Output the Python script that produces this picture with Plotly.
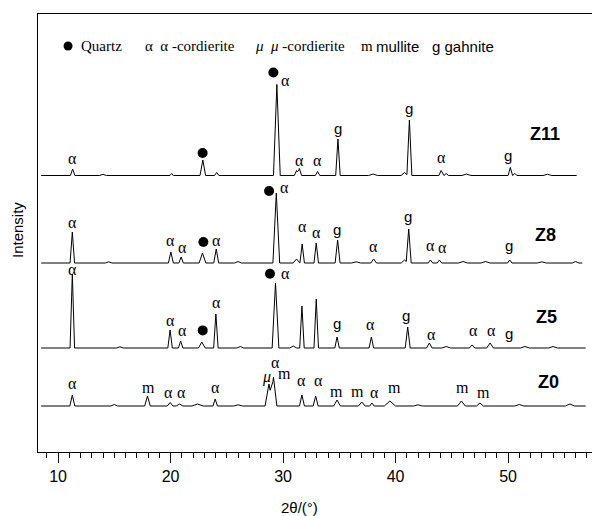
import plotly.graph_objects as go

# ---------------- data (2θ on displayed axis, intensity in arbitrary units) ----------------
samples = ["Z0", "Z5", "Z8", "Z11"]
offsets = [46, 104, 189, 276.5]          # stacking offsets of each pattern
x_start = [8.5, 8.5, 8.5, 8.5]
x_end = [56.9, 56.9, 56.6, 56.1]

z0_pos = [11.27, 15.0, 17.95, 19.96, 20.8, 22.4, 23.97, 26.0, 28.75, 29.15, 31.68, 32.9, 34.8, 37.0, 37.9, 39.5, 42.0, 45.85, 47.5, 51.0, 55.5]
z0_hgt = [11, 1.5, 10, 3.5, 2, 2, 7, 1.2, 22, 29, 11, 10, 6, 4, 3, 5, 1.2, 5, 3, 1.5, 2]
z0_wid = [0.22, 0.3, 0.25, 0.25, 0.3, 0.5, 0.2, 0.4, 0.35, 0.3, 0.22, 0.22, 0.3, 0.3, 0.2, 0.5, 0.4, 0.35, 0.3, 0.4, 0.4]

z5_pos = [11.27, 15.5, 19.96, 20.9, 22.78, 24.03, 26.2, 29.33, 30.9, 31.68, 32.95, 34.8, 37.85, 41.08, 43.0, 44.5, 46.8, 48.4, 51.5, 54.0]
z5_hgt = [74, 1.2, 18, 7, 6, 34, 1.5, 65, 2, 42, 49, 11, 11, 21, 5, 1.5, 3, 5, 1.5, 1.5]
z5_wid = [0.2, 0.3, 0.2, 0.2, 0.3, 0.2, 0.3, 0.3, 0.3, 0.2, 0.2, 0.2, 0.2, 0.22, 0.25, 0.4, 0.25, 0.3, 0.4, 0.4]

z8_pos = [11.27, 14.5, 20.03, 20.94, 22.84, 24.06, 26.0, 29.4, 31.2, 31.7, 32.95, 34.85, 36.5, 38.05, 40.8, 41.17, 43.1, 43.9, 46.0, 48.0, 50.15, 53.0, 56.0]
z8_hgt = [31, 1.2, 11, 6, 10, 14, 1.5, 70, 4, 19, 20, 23, 1.2, 4, 3, 34, 3, 3, 1.5, 1.5, 3, 1.2, 1.5]
z8_wid = [0.2, 0.3, 0.22, 0.2, 0.3, 0.22, 0.3, 0.3, 0.3, 0.2, 0.2, 0.22, 0.4, 0.25, 0.3, 0.22, 0.2, 0.2, 0.4, 0.4, 0.2, 0.4, 0.3]

z11_pos = [11.3, 14.0, 20.1, 22.87, 24.1, 29.45, 31.2, 31.45, 33.07, 34.88, 38.0, 40.8, 41.23, 44.05, 44.5, 46.3, 50.2, 50.6, 53.5]
z11_hgt = [6.5, 1.2, 2, 15.5, 3, 91, 5, 7, 4, 36.5, 1.5, 3, 55.5, 5, 2, 1.5, 8, 2, 1.2]
z11_wid = [0.2, 0.3, 0.15, 0.25, 0.2, 0.3, 0.2, 0.2, 0.2, 0.2, 0.4, 0.3, 0.22, 0.2, 0.2, 0.4, 0.2, 0.2, 0.4]

# quartz markers (x, height above baseline)
z0_q_x, z0_q_h = [], []
z5_q_x, z5_q_h = [22.86, 28.84], [17.6, 74.3]
z8_q_x, z8_q_h = [22.92, 28.76], [21, 72]
z11_q_x, z11_q_h = [22.85, 29.14], [22.5, 103]

# phase labels (x, height above baseline, text)
z0_lbl_x = [11.27, 18.03, 19.8, 21.0, 24.04, 29.29, 28.49, 30.12, 31.66, 33.14, 34.77, 36.6, 38.1, 39.9, 45.97, 47.8]
z0_lbl_h = [22.4, 18.4, 13.4, 13.4, 19, 44, 29, 32.4, 25.7, 25.7, 15, 15, 14, 19, 19, 14]
z0_lbl_t = ["α", "m", "α", "α", "α", "α", "μ", "m", "α", "α", "m", "m", "α", "m", "m", "m"]

z5_lbl_x = [11.27, 19.96, 21.08, 24.1, 30.18, 34.77, 37.73, 40.93, 43.2, 46.9, 48.5, 50.1]
z5_lbl_h = [79, 27.3, 17.6, 45.6, 74.3, 25, 23.3, 32.3, 13.3, 17.6, 17.6, 14.3]
z5_lbl_t = ["α", "α", "α", "α", "α", "g", "α", "g", "α", "α", "α", "g"]

z8_lbl_x = [11.27, 20.0, 21.08, 24.1, 30.1, 31.69, 32.93, 34.77, 38.03, 41.08, 43.07, 44.2, 50.1]
z8_lbl_h = [41, 22.7, 15.4, 22.7, 76, 36.7, 31, 33.4, 16.7, 46.7, 17.7, 15.7, 17.7]
z8_lbl_t = ["α", "α", "α", "α", "α", "α", "α", "g", "α", "g", "α", "α", "g"]

z11_lbl_x = [11.25, 30.18, 31.5, 33.05, 34.86, 41.2, 44.1, 50.0]
z11_lbl_h = [17.5, 95, 15.5, 15.5, 47, 67, 18, 20.5]
z11_lbl_t = ["α", "α", "α", "α", "g", "g", "α", "g"]

name_x = [53.6, 53.4, 53.3, 53.3]
name_h = [24, 31, 27.7, 41.5]

x_ticks = [10, 20, 30, 40, 50]

# ---------------- build ----------------
peaks = [(z0_pos, z0_hgt, z0_wid), (z5_pos, z5_hgt, z5_wid), (z8_pos, z8_hgt, z8_wid), (z11_pos, z11_hgt, z11_wid)]
quartz = [(z0_q_x, z0_q_h), (z5_q_x, z5_q_h), (z8_q_x, z8_q_h), (z11_q_x, z11_q_h)]
labels = [(z0_lbl_x, z0_lbl_h, z0_lbl_t), (z5_lbl_x, z5_lbl_h, z5_lbl_t), (z8_lbl_x, z8_lbl_h, z8_lbl_t), (z11_lbl_x, z11_lbl_h, z11_lbl_t)]


def pattern(pos, hgt, wid, x0, x1):
    pts = {x0, x1}
    for p, w in zip(pos, wid):
        for v in (p - w, p, p + w):
            if x0 <= v <= x1:
                pts.add(v)
    xs = sorted(pts)
    ys = [sum(max(0.0, h * (1 - abs(x - p) / w)) for p, h, w in zip(pos, hgt, wid)) for x in xs]
    return xs, ys


SERIF = "Liberation Serif, Times New Roman, serif"
SANS = "Liberation Sans, Arial, sans-serif"

fig = go.Figure()
annotations = []
for i, name in enumerate(samples):
    pos, hgt, wid = peaks[i]
    xs, ys = pattern(pos, hgt, wid, x_start[i], x_end[i])
    off = offsets[i]
    fig.add_trace(go.Scatter(x=xs, y=[y + off for y in ys], mode="lines",
                             line=dict(color="black", width=1), showlegend=False, hoverinfo="skip"))
    qx, qh = quartz[i]
    if qx:
        fig.add_trace(go.Scatter(x=qx, y=[h + off for h in qh], mode="markers",
                                 marker=dict(symbol="circle", size=10, color="black"),
                                 showlegend=False, hoverinfo="skip"))
    lx, lh, lt = labels[i]
    for x, h, t in zip(lx, lh, lt):
        if t == "g":
            font = dict(family=SANS, size=15, color="black")
            txt = t
        elif t == "μ":
            font = dict(family=SERIF, size=16, color="black")
            txt = "<i>μ</i>"
        else:
            font = dict(family=SERIF, size=16, color="black")
            txt = t
        annotations.append(dict(x=x, y=h + off, text=txt, showarrow=False, font=font,
                                xanchor="center", yanchor="middle"))
    annotations.append(dict(x=name_x[i], y=name_h[i] + off, text="<b>" + name + "</b>", showarrow=False,
                            font=dict(family=SANS, size=18, color="black"), xanchor="center", yanchor="middle"))

# legend row
leg_y = 406
fig.add_trace(go.Scatter(x=[10.89], y=[leg_y], mode="markers", marker=dict(symbol="circle", size=9, color="black"),
                         showlegend=False, hoverinfo="skip"))
legend_items = [
    (11.87, "Quartz", SERIF),
    (17.56, "α  α -cordierite", SERIF),
    (27.33, "<i>μ</i>  <i>μ</i> -cordierite", SERIF),
    (36.75, "m", SERIF),
    (38.1, "mullite", SANS),
    (43.07, "g gahnite", SANS),
]
for x, t, fam in legend_items:
    annotations.append(dict(x=x, y=leg_y, text=t, showarrow=False, xanchor="left", yanchor="middle",
                            font=dict(family=fam, size=15, color="black")))

# axis titles
annotations.append(dict(xref="paper", yref="paper", x=-0.036, y=0.507, text="Intensity", textangle=-90,
                        showarrow=False, xanchor="center", yanchor="middle",
                        font=dict(family=SANS, size=15, color="black")))
annotations.append(dict(x=31.5, yref="paper", y=-0.126, text="2θ/(°)", showarrow=False,
                        xanchor="center", yanchor="middle", font=dict(family=SANS, size=15, color="black")))

fig.update_layout(
    width=592, height=516,
    margin=dict(l=38, r=0, t=14, b=64),
    paper_bgcolor="white", plot_bgcolor="white",
    annotations=annotations,
    xaxis=dict(range=[8.22, 57.46], showgrid=False, zeroline=False, showline=True, linecolor="black",
               linewidth=1, mirror=True, ticks="outside", ticklen=10, tickcolor="black",
               tickvals=x_ticks, ticktext=[str(v) for v in x_ticks],
               tickfont=dict(family=SANS, size=16, color="black"),
               minor=dict(dtick=1, tick0=0, ticks="outside", ticklen=5, tickcolor="black")),
    yaxis=dict(range=[0, 438], showgrid=False, zeroline=False, showline=True, linecolor="black",
               linewidth=1, showticklabels=False, ticks=""),
)

fig.write_html("out.html")
